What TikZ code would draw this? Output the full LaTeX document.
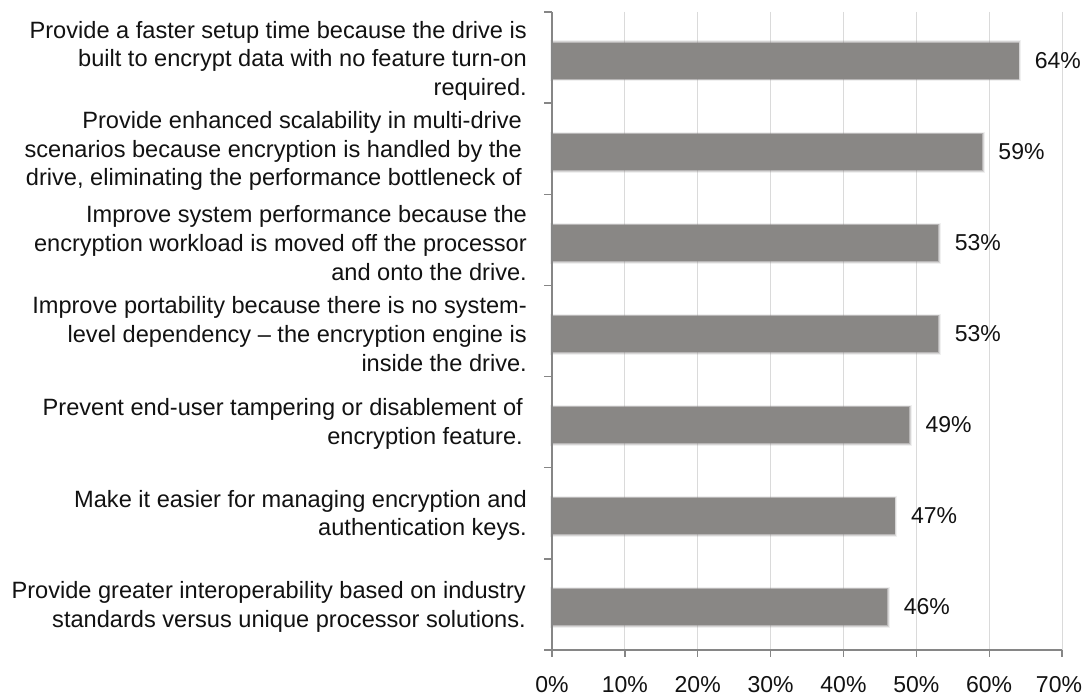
\documentclass[tikz,border=0pt]{standalone}
\usepackage{fontspec}
\setmainfont{Liberation Sans}
\definecolor{barfill}{RGB}{137,135,133}
\definecolor{gridcol}{RGB}{218,218,218}
\definecolor{axiscol}{RGB}{134,134,134}
\definecolor{txt}{RGB}{18,18,18}
\newcommand\catfont{\fontsize{23.6pt}{28.6pt}\selectfont}
\newcommand\numfont{\fontsize{23pt}{27pt}\selectfont}
\begin{document}
\begin{tikzpicture}[x=1pt,y=-1pt,
  catlabel/.style={anchor=east, align=right, font=\catfont, text=txt, inner sep=0pt},
  databar/.style={fill=barfill, draw=none, inner sep=0pt, anchor=west,
    minimum height=36pt, minimum width={7.2857pt*#1},
    preaction={draw=barfill, line width=5pt, draw opacity=0.12},
    preaction={draw=barfill, line width=3pt, draw opacity=0.25},
    preaction={draw=barfill, line width=1.5pt, draw opacity=0.4}},
  pctlabel/.style={anchor=west, font=\numfont, text=txt, inner sep=0pt},
  ticklabel/.style={font=\numfont, text=txt, inner sep=0pt},
  gridline/.style={draw=gridcol, line width=1pt},
  axisline/.style={draw=axiscol, line width=1.3pt}]
\useasboundingbox (0,0) rectangle (1086,698);
\fill[white] (0,0) rectangle (1086,698);

% vertical gridlines every 10%
\foreach \p in {10,20,...,70}
  \draw[gridline] ({552+7.2857*\p},12) -- ({552+7.2857*\p},650);

% bars (value axis: 0% at x=552, 7.2857 units per percent)
\node[databar=64] (b1) at (552,61.0) {};
\node[databar=59] (b2) at (552,152.0) {};
\node[databar=53] (b3) at (552,243.0) {};
\node[databar=53] (b4) at (552,334.0) {};
\node[databar=49] (b5) at (552,425.0) {};
\node[databar=47] (b6) at (552,516.0) {};
\node[databar=46] (b7) at (552,607.0) {};

% value labels
\node[pctlabel] (v1) at ([xshift=16pt]b1.east) {64\%};
\node[pctlabel] (v2) at ([xshift=16pt]b2.east) {59\%};
\node[pctlabel] (v3) at ([xshift=16pt]b3.east) {53\%};
\node[pctlabel] (v4) at ([xshift=16pt]b4.east) {53\%};
\node[pctlabel] (v5) at ([xshift=16pt]b5.east) {49\%};
\node[pctlabel] (v6) at ([xshift=16pt]b6.east) {47\%};
\node[pctlabel] (v7) at ([xshift=16pt]b7.east) {46\%};

% axes and tick marks
\draw[axisline] (552,12) -- (552,650);
\draw[axisline] (544,650) -- (1062,650);
\foreach \k in {0,...,7}
  \draw[axisline] (544,{12+91.143*\k}) -- (552,{12+91.143*\k});
\foreach \p in {0,10,...,70}
  \draw[axisline] ({552+7.2857*\p},650) -- ({552+7.2857*\p},657);

% value axis labels
\foreach \p in {0,10,...,60}
  \node[ticklabel] (t\p) at ({552+7.2857*\p},685) {\p\%};
\node[ticklabel] (t70) at (1059,685) {70\%};

% category labels
\node[catlabel] (c1) at (527,60.6) {Provide a faster setup time because the drive is\\built to encrypt data with no feature turn-on\\required.};
\node[catlabel] (c2) at (522,151.0) {Provide enhanced scalability in multi-drive\\scenarios because encryption is handled by the\\drive, eliminating the performance bottleneck of};
\node[catlabel] (c3) at (527,243.0) {Improve system performance because the\\encryption workload is moved off the processor\\and onto the drive.};
\node[catlabel] (c4) at (527,334.0) {Improve portability because there is no system-\\level dependency – the encryption engine is\\inside the drive.};
\node[catlabel] (c5) at (523,424.0) {Prevent end-user tampering or disablement of\\encryption feature.};
\node[catlabel] (c6) at (527,515.5) {Make it easier for managing encryption and\\authentication keys.};
\node[catlabel] (c7) at (526,607.0) {Provide greater interoperability based on industry\\standards versus unique processor solutions.};
\end{tikzpicture}
\end{document}
